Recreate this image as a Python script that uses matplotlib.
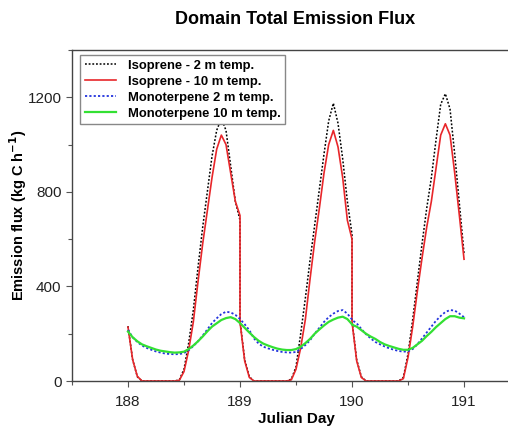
import numpy as np
import matplotlib
matplotlib.use("Agg")
import matplotlib.pyplot as plt
from matplotlib.ticker import MultipleLocator

plt.rcParams['font.family'] = ['Liberation Sans', 'DejaVu Sans']

# hour of day for each output step (each day is a separate model run)
hours = list(range(25))
days = [188, 189, 190]

# Isoprene - 2 m temp. (kg C / h)
iso_2m = [
    [232, 90, 18, 0, 0, 0, 0, 0, 0, 0, 0, 5, 50, 160, 300, 480, 650, 800, 950, 1060, 1110, 1060, 910, 760, 680],
    [255, 90, 18, 0, 0, 0, 0, 0, 0, 0, 0, 8, 60, 200, 350, 510, 660, 810, 960, 1100, 1175, 1090, 940, 760, 620],
    [255, 90, 18, 0, 0, 0, 0, 0, 0, 0, 0, 15, 115, 260, 420, 580, 730, 860, 1020, 1170, 1215, 1150, 960, 750, 540],
]
# Isoprene - 10 m temp.
iso_10m = [
    [228, 90, 20, 0, 0, 0, 0, 0, 0, 0, 0, 3, 40, 130, 250, 420, 580, 720, 860, 980, 1040, 1000, 880, 760, 700],
    [250, 85, 15, 0, 0, 0, 0, 0, 0, 0, 0, 5, 50, 140, 260, 430, 590, 730, 880, 1000, 1060, 990, 860, 680, 600],
    [250, 85, 15, 0, 0, 0, 0, 0, 0, 0, 0, 10, 100, 230, 380, 520, 650, 760, 900, 1040, 1088, 1040, 880, 700, 515],
]
# Monoterpene 2 m temp.
mono_2m = [
    [216, 185, 165, 150, 140, 132, 125, 120, 116, 114, 113, 114, 118, 130, 148, 168, 192, 218, 245, 265, 283, 293, 290, 280, 262],
    [262, 240, 215, 180, 158, 145, 138, 132, 127, 123, 121, 120, 123, 135, 152, 172, 200, 225, 250, 270, 285, 296, 300, 285, 260],
    [258, 244, 220, 198, 180, 165, 155, 146, 138, 132, 127, 124, 126, 135, 155, 180, 205, 230, 255, 275, 292, 300, 298, 285, 270],
]
# Monoterpene 10 m temp.
mono_10m = [
    [209, 185, 168, 155, 147, 140, 133, 128, 125, 122, 120, 121, 124, 135, 150, 168, 188, 210, 230, 244, 258, 266, 270, 262, 245],
    [245, 225, 205, 186, 170, 158, 150, 143, 137, 133, 131, 131, 135, 145, 160, 178, 200, 218, 235, 250, 260, 268, 272, 262, 240],
    [238, 230, 215, 200, 188, 178, 165, 155, 148, 142, 136, 132, 132, 140, 155, 170, 190, 208, 228, 245, 262, 274, 274, 268, 265],
]

labels = ["Isoprene - 2 m temp.", "Isoprene - 10 m temp.",
          "Monoterpene 2 m temp.", "Monoterpene 10 m temp."]

# julian day time axis, runs joined one after the other
jday = np.concatenate([[d + h / 24.0 for h in hours] for d in days])

def flat(s):
    return np.concatenate([np.array(v, dtype=float) for v in s])

fig = plt.figure(figsize=(5.08, 4.28), dpi=100)
ax = fig.add_axes([0.1417, 0.1098, 0.882, 0.7734])

ax.plot(jday, flat(iso_2m), color='black', ls=(0, (1.2, 1.2)), lw=1.1, label=labels[0])
ax.plot(jday, flat(iso_10m), color='#e8262a', lw=1.2, label=labels[1])
ax.plot(jday, flat(mono_2m), color='#2233dd', ls=(0, (1.2, 1.2)), lw=1.3, label=labels[2])
ax.plot(jday, flat(mono_10m), color='#33e033', lw=1.6, label=labels[3])

ax.set_xlim(187.5, 191.5)
ax.set_ylim(0, 1400)
ax.set_xticks([188, 189, 190, 191])
ax.xaxis.set_minor_locator(MultipleLocator(0.5))
ax.set_yticks([0, 400, 800, 1200])
ax.yaxis.set_minor_locator(MultipleLocator(200))
ax.tick_params(which='major', direction='out', length=4, width=0.8,
               colors='#555555', labelcolor='#222222', labelsize=11)
ax.tick_params(which='minor', direction='out', length=3, width=0.8, colors='#555555')
ax.tick_params(axis='x', pad=6)

for sp in ax.spines.values():
    sp.set_color('#444444')
    sp.set_linewidth(1.0)

ax.set_xlabel("Julian Day", fontsize=11, fontweight='bold', labelpad=2)
ax.set_ylabel("Emission flux (kg C h$^{\\mathbf{-1}}$)", fontsize=10.5, fontweight='bold')
ax.yaxis.set_label_coords(-0.096, 0.5)
fig.suptitle("Domain Total Emission Flux", fontsize=13, fontweight='bold', x=0.58, y=0.975)

leg = ax.legend(loc='upper left', bbox_to_anchor=(0.018, 0.985),
                prop={'weight': 'bold', 'size': 9.4}, handlelength=2.4,
                fancybox=False, framealpha=1, edgecolor='#888888',
                borderpad=0.35, labelspacing=0.3, handletextpad=0.9,
                borderaxespad=0)
leg.get_frame().set_linewidth(1.0)

fig.savefig("out.png", dpi=100)
